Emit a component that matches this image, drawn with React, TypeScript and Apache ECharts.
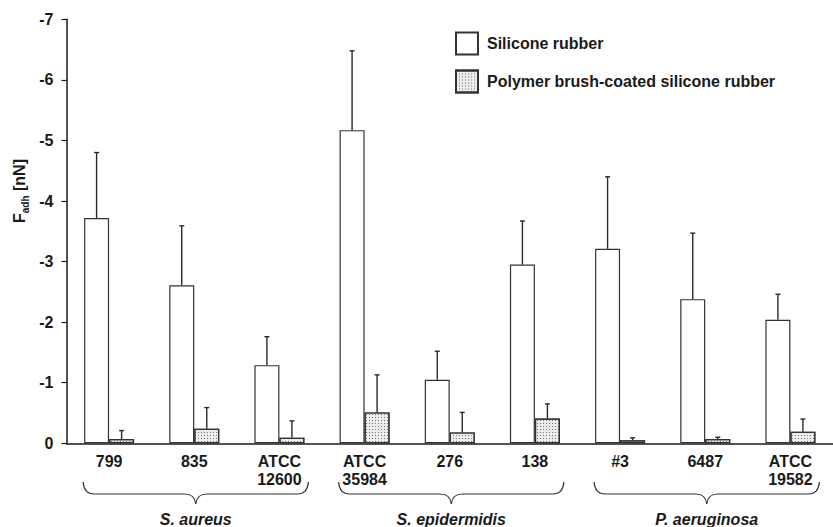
import React, { useEffect, useRef } from "react";
import * as echarts from "echarts";

const categories = ["799", "835", "ATCC\n12600", "ATCC\n35984", "276", "138", "#3", "6487", "ATCC\n19582"];
const siliconeValues = [-3.72, -2.61, -1.29, -5.17, -1.05, -2.95, -3.21, -2.38, -2.04];
const siliconeSD = [1.08, 0.98, 0.47, 1.31, 0.47, 0.72, 1.19, 1.09, 0.42];
const coatedValues = [-0.07, -0.24, -0.09, -0.51, -0.18, -0.41, -0.05, -0.07, -0.19];
const coatedSD = [0.14, 0.35, 0.28, 0.62, 0.33, 0.24, 0.04, 0.03, 0.21];
const groupNames = ["S. aureus", "S. epidermidis", "P. aeruginosa"];
const groupRanges = [[0, 2], [3, 5], [6, 8]];
const seriesNames = ["Silicone rubber", "Polymer brush-coated silicone rubber"];

const FONT = "'Liberation Sans', Arial, Helvetica, sans-serif";
const INK = "#1a1a1a";
const FS = 16;

let registered = false;
function registerBrace() {
  if (registered) return;
  registered = true;
  const Brace = (echarts.graphic as any).extendShape({
    type: "brace",
    shape: { x0: 0, x1: 0, xm: 0, yt: 0, yb: 0, yc: 0 },
    buildPath(ctx: any, s: any) {
      const r = 11;
      ctx.moveTo(s.x0, s.yt);
      ctx.quadraticCurveTo(s.x0 + 1, s.yb, s.x0 + r, s.yb);
      ctx.lineTo(s.xm - r, s.yb);
      ctx.quadraticCurveTo(s.xm - 1, s.yb, s.xm, s.yc);
      ctx.quadraticCurveTo(s.xm + 1, s.yb, s.xm + r, s.yb);
      ctx.lineTo(s.x1 - r, s.yb);
      ctx.quadraticCurveTo(s.x1 - 1, s.yb, s.x1, s.yt);
    },
  });
  (echarts.graphic as any).registerShape("brace", Brace);
}

function errorSeries(values: number[], sds: number[], offset: number) {
  return {
    type: "custom",
    z: 5,
    silent: true,
    clip: false,
    data: values.map((v, i) => [i, v, v - sds[i]]),
    renderItem: (params: any, api: any) => {
      const base = api.coord([api.value(0), api.value(1)]);
      const top = api.coord([api.value(0), api.value(2)]);
      const x = base[0] + offset;
      const st = { stroke: "#2a2a2a", lineWidth: 1.4 };
      return {
        type: "group",
        children: [
          { type: "line", shape: { x1: x, y1: base[1], x2: x, y2: top[1] }, style: st },
          { type: "line", shape: { x1: x - 2.5, y1: top[1], x2: x + 2.5, y2: top[1] }, style: st },
        ],
      };
    },
  };
}

export default function App() {
  const ref = useRef<HTMLDivElement>(null);
  useEffect(() => {
    if (!ref.current) return;
    registerBrace();
    const chart = echarts.init(ref.current, undefined, { renderer: "svg" });
    const barWidth = 25;
    const option: any = {
      animation: false,
      backgroundColor: "#fff",
      grid: { left: 66.5, top: 19.3, width: 777, height: 424 },
      legend: {
        data: seriesNames,
        orient: "vertical",
        left: 450,
        top: 26.5,
        itemWidth: 22,
        itemHeight: 22,
        itemGap: 14,
        icon: "rect",
        selectedMode: false,
        textStyle: { fontFamily: FONT, fontSize: FS, fontWeight: "bold", color: INK, padding: [0, 0, 0, 4] },
      },
      xAxis: {
        type: "category",
        data: categories,
        axisLine: { lineStyle: { color: INK, width: 1.5 } },
        axisTick: { show: false },
        axisLabel: {
          interval: 0,
          margin: 9,
          fontFamily: FONT,
          fontSize: FS,
          fontWeight: "bold",
          color: INK,
          lineHeight: 18,
        },
      },
      yAxis: {
        type: "value",
        min: -7,
        max: 0,
        interval: 1,
        inverse: true,
        splitLine: { show: false },
        axisLine: { show: true, lineStyle: { color: INK, width: 1.5 } },
        axisTick: { show: true, length: 5, lineStyle: { color: INK, width: 1.2 } },
        axisLabel: { margin: 13, fontFamily: FONT, fontSize: FS, fontWeight: "bold", color: INK },
      },
      series: [
        {
          name: seriesNames[0],
          type: "bar",
          data: siliconeValues,
          barWidth,
          barGap: "0%",
          itemStyle: { color: "#ffffff", borderColor: "#333", borderWidth: 1.2 },
        },
        {
          name: seriesNames[1],
          type: "bar",
          data: coatedValues,
          barWidth,
          barGap: "0%",
          itemStyle: {
            color: "#ececec",
            borderColor: "#333",
            borderWidth: 1.2,
            decal: {
              symbol: "rect",
              symbolSize: 1,
              color: "rgba(70,70,70,0.7)",
              dashArrayX: [1, 1.5],
              dashArrayY: [1, 1.5],
              rotation: 0,
            },
          },
        },
        errorSeries(siliconeValues, siliconeSD, -barWidth / 2),
        errorSeries(coatedValues, coatedSD, barWidth / 2),
      ],
    };
    chart.setOption(option);

    const px = (i: number) => chart.convertToPixel({ xAxisIndex: 0 }, i) as number;
    const graphics: any[] = [
      {
        type: "text",
        x: 19,
        y: 191,
        rotation: Math.PI / 2,
        style: {
          text: "{f|F}{s|adh}{f| [nN]}",
          align: "center",
          verticalAlign: "middle",
          fill: INK,
          rich: {
            f: { fontFamily: FONT, fontSize: FS, fontWeight: "bold", fill: INK, lineHeight: 22, verticalAlign: "middle" },
            s: { fontFamily: FONT, fontSize: 10, fontWeight: "bold", fill: INK, lineHeight: 22, verticalAlign: "bottom" },
          },
        },
      },
    ];
    groupRanges.forEach((rg, gi) => {
      const x0 = px(rg[0]) - 26;
      const x1 = Math.min(px(rg[1]) + 29, 832);
      const xm = (x0 + x1) / 2;
      graphics.push({
        type: "brace",
        shape: { x0, x1, xm, yt: 482, yb: 494, yc: 504 },
        style: { stroke: "#333", lineWidth: 1.2, fill: "none" },
      });
      graphics.push({
        type: "text",
        x: xm,
        y: 519,
        style: {
          text: groupNames[gi],
          align: "center",
          verticalAlign: "middle",
          fontFamily: FONT,
          fontSize: FS,
          fontWeight: "bold",
          fontStyle: "italic",
          fill: INK,
        },
      });
    });
    chart.setOption({ graphic: graphics });
    return () => chart.dispose();
  }, []);
  return (
    <div
      ref={ref}
      style={{ position: "absolute", left: 0, top: 0, width: 833, height: 527, background: "#fff" }}
    />
  );
}
